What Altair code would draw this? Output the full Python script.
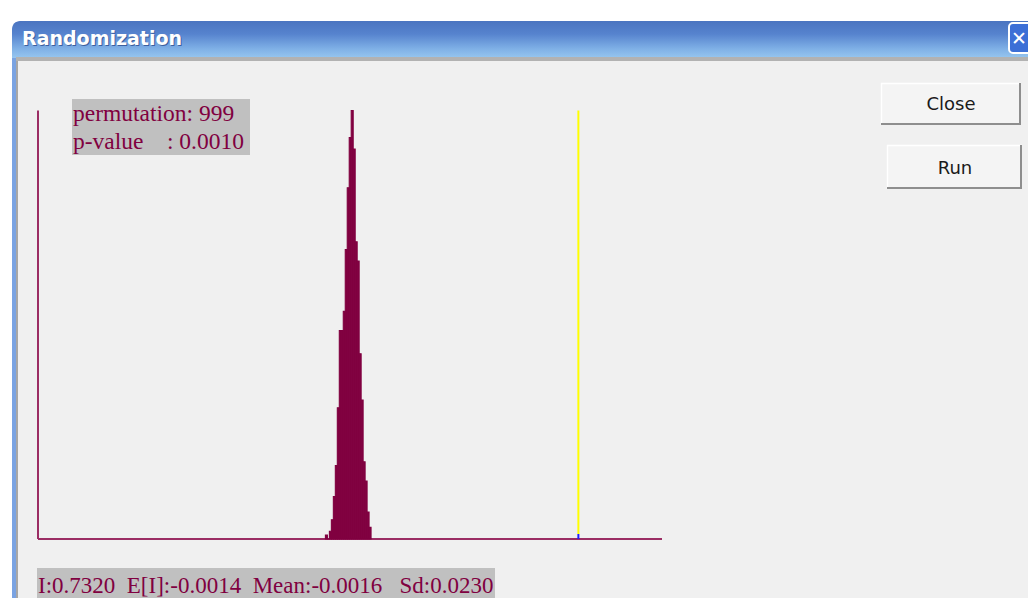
import altair as alt
import pandas as pd

# ---------------- data ----------------
BIN_LO = -0.0788          # left edge of first histogram bin
BIN_W = 0.00636           # histogram bin width
COUNTS = [1, 0, 2, 5, 11, 19, 34, 54, 54, 59, 75, 91, 104, 111, 101, 77, 72, 48, 36, 20, 15, 7, 3]
OBS_I = 0.7320
X_DOMAIN = [-1, 1]
Y_DOMAIN = [0, 111]

TITLE = "Randomization"
BUTTONS = ["Close", "Run"]
PERM_LINE1 = "permutation: 999"
PERM_LINE2 = "p-value\u00a0\u00a0\u00a0\u00a0: 0.0010"
STATS = "I:0.7320\u00a0\u00a0E[I]:-0.0014\u00a0\u00a0Mean:-0.0016\u00a0\u00a0\u00a0Sd:0.0230"

# ---------------- layout ----------------
OX, OY = 8, 8            # page margin offset (reference px -> chart px)
W, H = 1020, 590

BAR_COLOR = "#800040"
AXIS_COLOR = "#9B2D64"
TEXT_COLOR = "#800040"
CLIENT_BG = "#F0F0F0"

hist = pd.DataFrame({
    "lo": [BIN_LO + i * BIN_W for i in range(len(COUNTS))],
    "count": COUNTS,
})
hist["hi"] = hist["lo"] + BIN_W

xs = alt.Scale(domain=X_DOMAIN, range=[38 - OX, 662 - OX])
ys = alt.Scale(domain=Y_DOMAIN, range=[539 - OY, 110.5 - OY])

one = pd.DataFrame({"k": [0]})


def rect(x1, y1, x2, y2, **kw):
    return alt.Chart(one).mark_rect(**kw).encode(
        x=alt.value(x1 - OX), x2=alt.value(x2 - OX),
        y=alt.value(y1 - OY), y2=alt.value(y2 - OY))


def hline(x1, x2, y, color, w=1):
    return alt.Chart(one).mark_rule(color=color, strokeWidth=w).encode(
        x=alt.value(x1 - OX), x2=alt.value(x2 - OX), y=alt.value(y - OY))


def vline(x, y1, y2, color, w=1):
    return alt.Chart(one).mark_rule(color=color, strokeWidth=w).encode(
        x=alt.value(x - OX), y=alt.value(y1 - OY), y2=alt.value(y2 - OY))


def text(t, x, y, **kw):
    return alt.Chart(one).mark_text(text=t, **kw).encode(
        x=alt.value(x - OX), y=alt.value(y - OY))


layers = []

# window client area & frame
layers.append(rect(12, 40, W + OX, H + OY, color=CLIENT_BG))
layers.append(rect(12, 40, 16, H + OY, color="#7AA3E2"))
layers.append(rect(16, 58, 18, H + OY, color="#A7A7A7"))

# title bar
grad = alt.LinearGradient(
    gradient="linear",
    stops=[alt.GradientStop(color="#4A74C0", offset=0),
           alt.GradientStop(color="#5683CE", offset=0.35),
           alt.GradientStop(color="#7FB0E6", offset=0.75),
           alt.GradientStop(color="#96C6EF", offset=1)],
    x1=0, x2=0, y1=0, y2=1)
layers.append(rect(12, 21, W + OX, 58, color=grad, cornerRadiusTopLeft=8))
layers.append(rect(16, 57, W + OX, 61, color="#B2B2B2"))
layers.append(text(TITLE, 23, 46, font="DejaVu Sans", fontWeight="bold", fontSize=19,
                   color="#3C5F9E", align="left", baseline="alphabetic"))
layers.append(text(TITLE, 22, 45, font="DejaVu Sans", fontWeight="bold", fontSize=19,
                   color="#FFFFFF", align="left", baseline="alphabetic"))

# close "X" box in title bar
layers.append(rect(1009, 23, W + OX + 6, 53, color="#3C6FD6", stroke="#FFFFFF",
                   strokeWidth=2, cornerRadius=4))
layers.append(text("\u2715", 1019, 39, font="DejaVu Sans", fontWeight="bold", fontSize=19,
                   color="#FFFFFF", align="center", baseline="middle"))

# buttons
btn_boxes = [(881, 83, 1021, 125), (887, 145, 1022, 189)]
btn_text_pos = [(951, 110), (955, 174)]
for (x1, y1, x2, y2), (tx, ty), label in zip(btn_boxes, btn_text_pos, BUTTONS):
    layers.append(rect(x1, y1, x2, y2, color="#F4F4F4"))
    layers.append(hline(x1, x2, y1 + 0.5, "#FFFFFF", 1.5))
    layers.append(vline(x1 + 0.5, y1, y2, "#FFFFFF", 1.5))
    layers.append(hline(x1, x2, y2 - 1, "#8E8E8E", 2))
    layers.append(vline(x2 - 1, y1, y2, "#8E8E8E", 2))
    layers.append(text(label, tx, ty, font="DejaVu Sans", fontSize=18, color="#1A1A1A",
                       align="center", baseline="alphabetic"))

# info boxes
layers.append(rect(72, 99, 250, 155, color="#C0C0C0"))
layers.append(text(PERM_LINE1, 73, 121, font="Liberation Serif", fontSize=23.5,
                   color=TEXT_COLOR, align="left", baseline="alphabetic"))
layers.append(text(PERM_LINE2, 73, 149, font="Liberation Serif", fontSize=23.5,
                   color=TEXT_COLOR, align="left", baseline="alphabetic"))
layers.append(rect(37, 568, 495, 600, color="#C0C0C0"))
layers.append(text(STATS, 38, 593, font="Liberation Serif", fontSize=23,
                   color=TEXT_COLOR, align="left", baseline="alphabetic"))

# axes drawn through the data scales
axes_df = pd.DataFrame({"x0": [X_DOMAIN[0]], "x1": [X_DOMAIN[1]],
                        "y0": [Y_DOMAIN[0]], "y1": [Y_DOMAIN[1]]})
layers.append(alt.Chart(axes_df).mark_rule(color=AXIS_COLOR, strokeWidth=2).encode(
    x=alt.X("x0:Q", scale=xs, axis=None), x2="x1:Q",
    y=alt.Y("y0:Q", scale=ys, axis=None)))
layers.append(alt.Chart(axes_df).mark_rule(color=AXIS_COLOR, strokeWidth=2).encode(
    x=alt.X("x0:Q", scale=xs, axis=None),
    y=alt.Y("y0:Q", scale=ys, axis=None), y2="y1:Q"))

# histogram
layers.append(alt.Chart(hist).mark_rect(color=BAR_COLOR, stroke=BAR_COLOR, strokeWidth=1.1,
                                        strokeJoin="miter").encode(
    x=alt.X("lo:Q", scale=xs, axis=None), x2="hi:Q",
    y=alt.Y("count:Q", scale=ys, axis=None), y2=alt.datum(0)))

# observed I line
obs_df = pd.DataFrame({"I": [OBS_I], "y0": [Y_DOMAIN[0]], "y1": [Y_DOMAIN[1]], "yb": [1.3]})
layers.append(alt.Chart(obs_df).mark_rule(color="#FFFF00", strokeWidth=2).encode(
    x=alt.X("I:Q", scale=xs, axis=None),
    y=alt.Y("yb:Q", scale=ys, axis=None), y2="y1:Q"))
layers.append(alt.Chart(obs_df).mark_rule(color="#2020FF", strokeWidth=2).encode(
    x=alt.X("I:Q", scale=xs, axis=None),
    y=alt.Y("y0:Q", scale=ys, axis=None), y2="yb:Q"))

chart = alt.layer(*layers).properties(
    width=W, height=H, padding=0,
    autosize=alt.AutoSizeParams(type="fit", contains="padding"),
    background="#FFFFFF",
).configure_view(stroke=None)

chart.save("out.html", embed_options={"renderer": "svg", "actions": False})
